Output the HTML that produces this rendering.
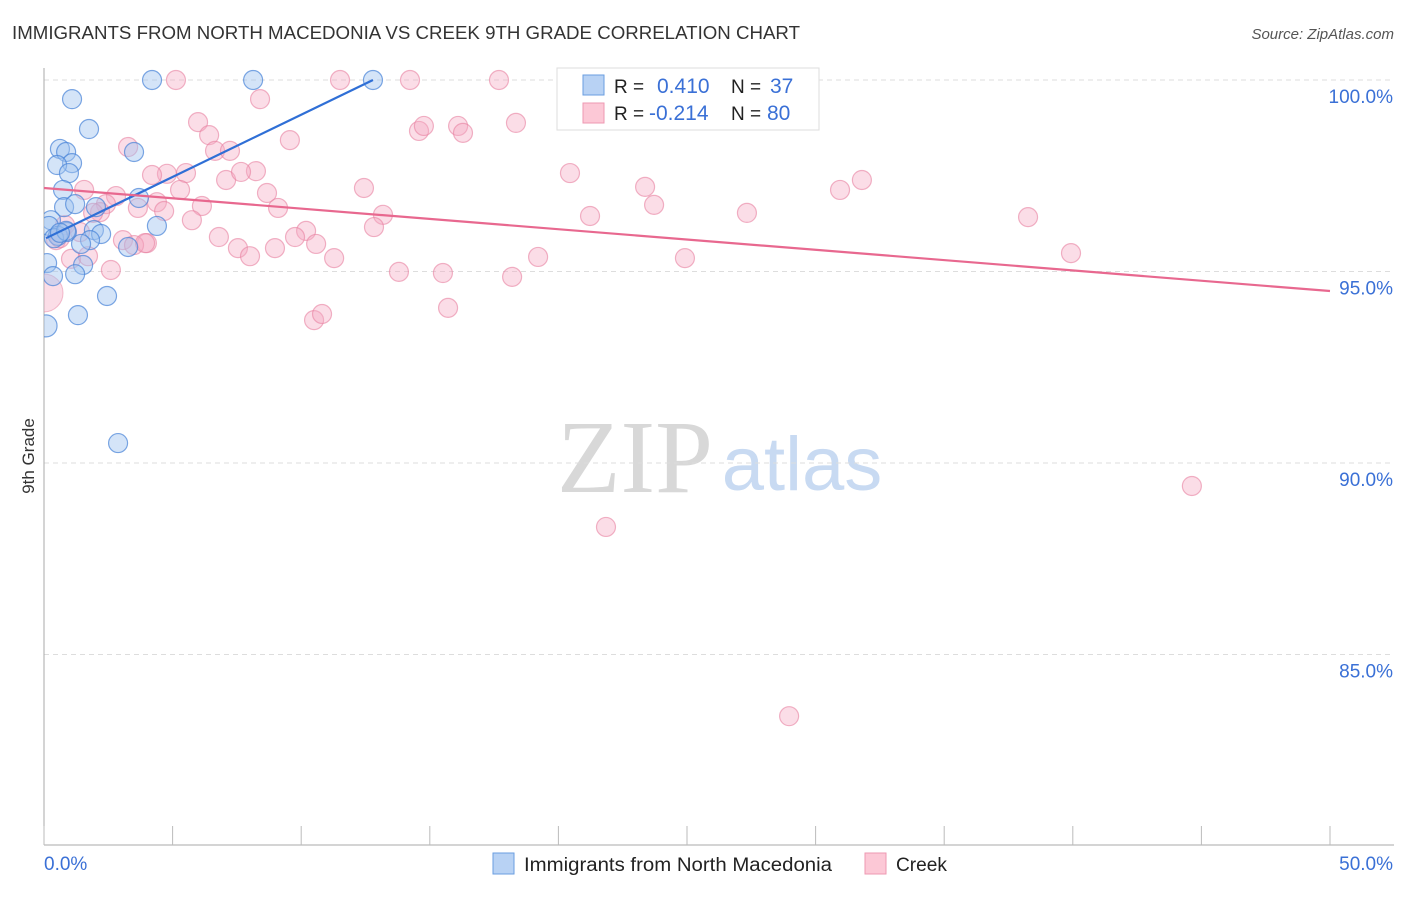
<!DOCTYPE html>
<html><head><meta charset="utf-8"><style>
body{margin:0;background:#fff;width:1406px;height:892px;overflow:hidden;font-family:"Liberation Sans",sans-serif}
</style></head><body>
<svg id="chart" width="1406" height="892" xmlns="http://www.w3.org/2000/svg" font-family="Liberation Sans, sans-serif">
<defs><clipPath id="plotclip"><rect x="44" y="40" width="1360" height="805"/></clipPath></defs>
<text x="12" y="39" font-size="18" fill="#333" textLength="788" lengthAdjust="spacingAndGlyphs">IMMIGRANTS FROM NORTH MACEDONIA VS CREEK 9TH GRADE CORRELATION CHART</text>
<text x="1394" y="39" font-size="15" fill="#555" text-anchor="end" font-style="italic">Source: ZipAtlas.com</text>
<g>
<text x="635" y="492" font-size="104" fill="#d8d8d8" text-anchor="middle" font-family="Liberation Serif, serif">ZIP</text>
<text x="802" y="490" font-size="76" fill="#c8daf2" text-anchor="middle">atlas</text>
</g>
<g id="grid"></g>
<g id="axes"></g>
<g id="pts" clip-path="url(#plotclip)"></g>
<g id="lines"></g>
<text transform="translate(34,456) rotate(-90)" font-size="17" fill="#333" text-anchor="middle">9th Grade</text>
<g>
<rect x="557" y="68" width="262" height="62" fill="#fff" stroke="#ddd"/>
<rect x="583" y="75" width="21" height="20" fill="#b8d2f4" stroke="#6a9ee0"/>
<rect x="583" y="103" width="21" height="20" fill="#fcc8d6" stroke="#ee98b2"/>
<text x="614" y="93" font-size="19" fill="#222">R =</text>
<text x="657" y="93" font-size="21" fill="#3a70d6">0.410</text>
<text x="731" y="93" font-size="19" fill="#222">N =</text>
<text x="770" y="93" font-size="21" fill="#3a70d6">37</text>
<text x="614" y="120" font-size="19" fill="#222">R =</text>
<text x="649" y="120" font-size="21" fill="#3a70d6">-0.214</text>
<text x="731" y="120" font-size="19" fill="#222">N =</text>
<text x="767" y="120" font-size="21" fill="#3a70d6">80</text>
</g>
<g>
<rect x="493" y="853" width="21" height="21" fill="#b8d2f4" stroke="#6a9ee0"/>
<text x="524" y="871" font-size="19" fill="#222" textLength="308" lengthAdjust="spacingAndGlyphs">Immigrants from North Macedonia</text>
<rect x="865" y="853" width="21" height="21" fill="#fcc8d6" stroke="#ee98b2"/>
<text x="896" y="871" font-size="19" fill="#222" textLength="51" lengthAdjust="spacingAndGlyphs">Creek</text>
</g>
</svg>
<script>
const blueX=[4.20,8.13,12.79,1.09,1.75,3.50,0.62,0.86,1.09,0.51,0.97,0.74,3.69,0.78,1.21,2.02,0.27,0.19,4.39,0.89,1.94,2.22,0.54,0.39,1.79,1.44,3.27,0.12,1.52,0.35,1.21,2.45,1.32,0.08,2.88,0.86,0.62];
const blueY=[100,100,100,99.50,98.72,98.12,98.20,98.12,97.83,97.78,97.57,97.13,96.92,96.68,96.76,96.68,96.34,96.19,96.19,96.03,96.08,95.98,95.93,95.87,95.82,95.72,95.64,95.22,95.17,94.88,94.93,94.36,93.86,93.58,90.52,96.06,96.01];
const pinkX=[5.13,11.51,14.23,17.69,22.82,21.62,8.40,5.99,6.42,9.56,3.27,6.65,7.23,14.58,14.77,16.10,16.29,18.35,4.78,5.52,4.20,7.08,8.24,7.66,1.56,2.80,5.29,8.67,12.44,20.45,23.37,30.95,31.80,2.41,3.65,4.39,4.67,6.14,9.10,2.18,13.18,21.23,23.72,27.33,38.26,5.75,10.19,12.83,6.80,9.76,10.58,0.47,3.07,4.00,3.50,7.54,8.98,8.01,11.28,19.21,24.92,39.93,13.80,15.51,18.20,1.05,2.60,1.71,10.50,10.81,15.71,21.85,44.63,28.97,0.62,0.82,1.91,3.93,1.40];
const pinkY=[100,100,100,100,100,100,99.50,98.90,98.56,98.43,98.25,98.15,98.15,98.67,98.80,98.80,98.62,98.88,97.55,97.57,97.52,97.39,97.62,97.60,97.13,96.97,97.13,97.05,97.18,97.57,97.21,97.13,97.39,96.76,96.66,96.81,96.58,96.71,96.66,96.55,96.48,96.45,96.74,96.53,96.42,96.34,96.06,96.16,95.90,95.90,95.72,95.82,95.82,95.74,95.69,95.61,95.61,95.40,95.35,95.38,95.35,95.48,94.99,94.96,94.86,95.33,95.04,95.40,93.73,93.89,94.05,88.33,89.40,83.39,95.87,96.21,96.53,95.74,96.03];
const bigPink=[{x:0.0,y:94.44}];
const blueLine=[0.08,95.87,12.79,100];
const pinkLine=[0,97.18,50,94.49];
const yTicks=[100,95,90,85];
const yTickLabels=["100.0%","95.0%","90.0%","85.0%"];
const xTicks=[0,5,10,15,20,25,30,35,40,45,50];

const NS="http://www.w3.org/2000/svg";
const sx=v=>44+v*25.72;
const sy=v=>80+(100-v)*38.3;
function mk(tag,attrs,parent){const e=document.createElementNS(NS,tag);for(const k in attrs)e.setAttribute(k,attrs[k]);document.getElementById(parent).appendChild(e);return e;}

yTicks.forEach((t,i)=>{
  const g=mk('line',{x1:44,x2:1394,y1:sy(t),y2:sy(t),stroke:'#ddd','stroke-dasharray':'5,4'},'grid');
  
  
  const l=mk('text',{x:1393,y:sy(t)+23,'font-size':19,fill:'#3a70d6','text-anchor':'end'},'grid');
  l.textContent=yTickLabels[i];
  
  
});
const ax=mk('line',{x1:44,x2:44,y1:68,y2:845,stroke:'#aaa'},'axes');


const bx=mk('line',{x1:44,x2:1394,y1:845,y2:845,stroke:'#aaa'},'axes');


xTicks.forEach(t=>{
  const k=mk('line',{x1:sx(t),x2:sx(t),y1:826,y2:845,stroke:'#bbb'},'axes');
  
  
});
const x0=mk('text',{x:44,y:870,'font-size':19,fill:'#3a70d6'},'axes');x0.textContent='0.0%';


const x1=mk('text',{x:1393,y:870,'font-size':19,fill:'#3a70d6','text-anchor':'end'},'axes');x1.textContent='50.0%';



pinkX.forEach((v,i)=>{
  const c=mk('circle',{cx:sx(v),cy:sy(pinkY[i]),r:9.5,fill:'rgba(244,170,194,0.4)',stroke:'rgba(232,128,160,0.6)','stroke-width':1.2},'pts');
  
  
});
bigPink.forEach(p=>{
  const c=mk('circle',{cx:sx(p.x),cy:sy(p.y),r:19,fill:'rgba(244,170,194,0.4)',stroke:'rgba(232,128,160,0.5)'},'pts');
  
  
});
blueX.forEach((v,i)=>{
  const r=i===33?11:9.5;
  const c=mk('circle',{cx:sx(v),cy:sy(blueY[i]),r:r,fill:'rgba(160,195,240,0.45)',stroke:'rgba(70,130,215,0.7)','stroke-width':1.2},'pts');
  
  
});
const bl=mk('line',{x1:sx(blueLine[0]),y1:sy(blueLine[1]),x2:sx(blueLine[2]),y2:sy(blueLine[3]),stroke:'#2f6fd6','stroke-width':2.2},'lines');


const pl=mk('line',{x1:sx(pinkLine[0]),y1:sy(pinkLine[1]),x2:sx(pinkLine[2]),y2:sy(pinkLine[3]),stroke:'#e8688f','stroke-width':2.2},'lines');


</script>
</body></html>
